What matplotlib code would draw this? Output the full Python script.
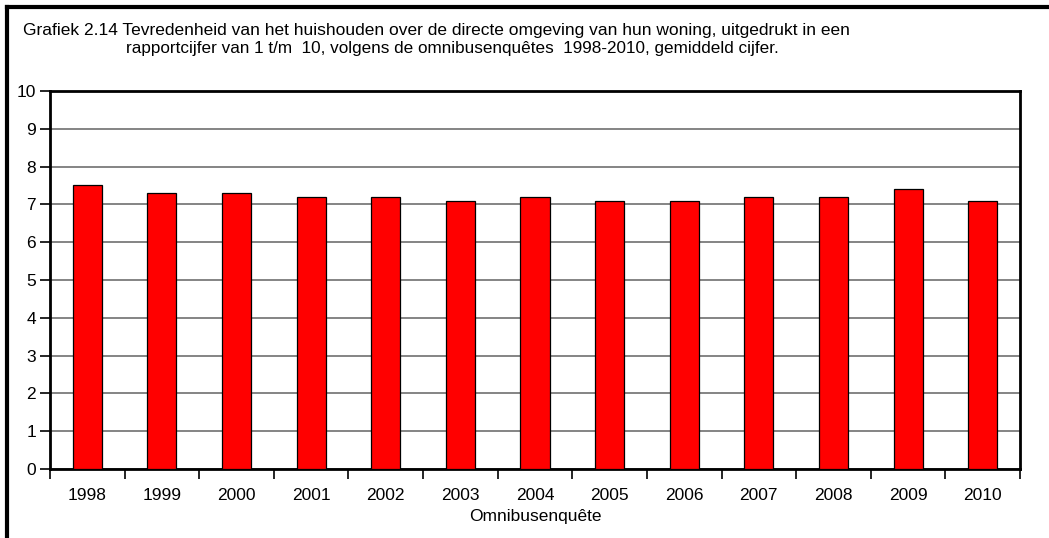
import matplotlib
matplotlib.use("Agg")
import matplotlib.pyplot as plt
import numpy as np
from matplotlib.lines import Line2D

years = ["1998", "1999", "2000", "2001", "2002", "2003", "2004",
         "2005", "2006", "2007", "2008", "2009", "2010"]
scores = [7.5, 7.3, 7.3, 7.2, 7.2, 7.1, 7.2, 7.1, 7.1, 7.2, 7.2, 7.4, 7.1]
yticks = [0, 1, 2, 3, 4, 5, 6, 7, 8, 9, 10]
title1 = "Grafiek 2.14 Tevredenheid van het huishouden over de directe omgeving van hun woning, uitgedrukt in een"
title2 = "rapportcijfer van 1 t/m  10, volgens de omnibusenquêtes  1998-2010, gemiddeld cijfer."
xlabel = "Omnibusenquête"

plt.rcParams['font.family'] = ['Liberation Sans', 'DejaVu Sans']

W, H = 1049, 538
fig = plt.figure(figsize=(W / 100, H / 100), dpi=100)
ax = fig.add_axes([50 / W, (H - 469) / H, 970 / W, 378 / H])

x = np.arange(len(years))
ax.bar(x, scores, width=0.39, color='#ff0000', edgecolor='black', linewidth=0.9, zorder=3)

ax.set_xlim(-0.5, len(years) - 0.5)
ax.set_ylim(0, 10)
ax.set_yticks(yticks)
ax.set_yticklabels([str(t) for t in yticks], fontsize=12.5)
ax.yaxis.grid(True, color='#707070', linewidth=1.2, zorder=0)
ax.tick_params(axis='y', direction='out', length=7, width=1.2, pad=3)

ax.set_xticks(np.arange(-0.5, len(years), 1.0))
ax.set_xticklabels([])
ax.set_xticks(x, minor=True)
ax.set_xticklabels(years, minor=True, fontsize=12.5)
ax.tick_params(axis='x', which='major', direction='out', length=7, width=1.2)
ax.tick_params(axis='x', which='minor', length=0, pad=14)
ax.set_xlabel(xlabel, fontsize=12.5, labelpad=4)

for s in ax.spines.values():
    s.set_linewidth(2)
    s.set_color('black')

fig.text(23 / W, 1 - 30 / H, title1, fontsize=12.5, ha='left', va='center')
fig.text(126 / W, 1 - 48 / H, title2, fontsize=12.3, ha='left', va='center')

# outer frame (top and left visible)
fig.add_artist(Line2D([7 / W, 1.0], [1 - 7 / H, 1 - 7 / H], color='black', linewidth=3, transform=fig.transFigure))
fig.add_artist(Line2D([7 / W, 7 / W], [0, 1 - 7 / H], color='black', linewidth=3, transform=fig.transFigure))

fig.savefig("out.png", dpi=100)
